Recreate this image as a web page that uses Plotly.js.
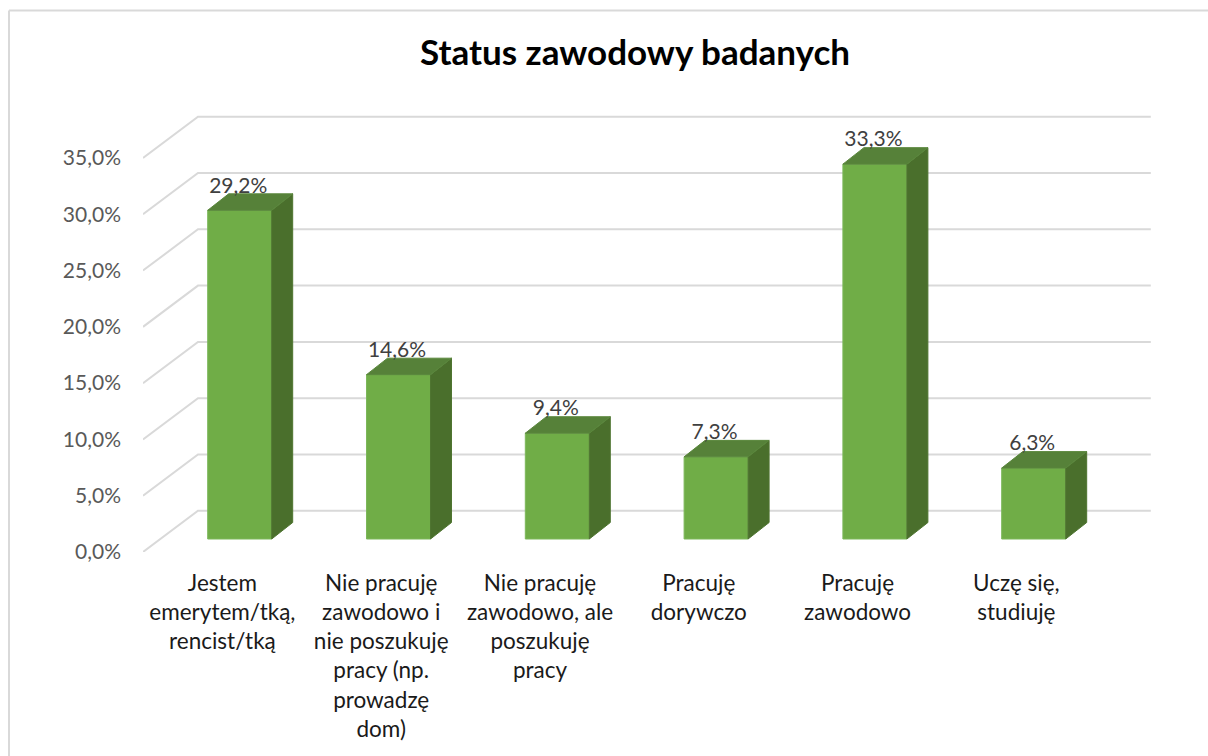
<!DOCTYPE html>
<html>
<head>
<meta charset="utf-8">
<script src="https://cdn.plot.ly/plotly-3.0.1.min.js"></script>
<style>html,body{margin:0;padding:0;background:#fff}#chart{width:1208px;height:756px}</style>
</head>
<body>
<div id="chart"></div>
<script>
const categories = [
  "Jestem<br>emerytem/tką,<br>rencist/tką",
  "Nie pracuję<br>zawodowo i<br>nie poszukuję<br>pracy (np.<br>prowadzę<br>dom)",
  "Nie pracuję<br>zawodowo, ale<br>poszukuję<br>pracy",
  "Pracuję<br>dorywczo",
  "Pracuję<br>zawodowo",
  "Uczę się,<br>studiuję"
];
const values = [29.2, 14.6, 9.4, 7.3, 33.3, 6.3];
const axisTicks = [0, 5, 10, 15, 20, 25, 30, 35];

const W = 1208, H = 756;
const plotL = 143, plotR = 1151, plotT = 110, plotB = 552.5;
const pxX = 158.8, pxY = 11.27;
const ux = p => p / pxX, uy = p => p / pxY;

const fmt = v => v.toFixed(1).replace('.', ',') + '%';
const idx = categories.map((_, i) => i);
const wallDx = ux(55), wallDy = uy(41.3);
const barShift = ux(17.3), barBase = uy(13);
const barW = ux(64), depthX = ux(21), depthY = uy(16.5);
const xRange = [-0.5, -0.5 + (plotR - plotL) / pxX];
const yRange = [0, (plotB - plotT) / pxY];

const gridShapes = axisTicks.map(v => ({
  type: 'path', layer: 'below', xref: 'x', yref: 'y',
  path: `M ${-0.5} ${v} L ${-0.5 + wallDx} ${v + wallDy} L ${5.5 + wallDx} ${v + wallDy}`,
  line: {color: '#d9d9d9', width: 2}, fillcolor: 'rgba(0,0,0,0)'
}));
const px = x => (x - plotL) / (plotR - plotL), py = y => (plotB - y) / (plotB - plotT);
const frameShapes = [
  {type:'line', xref:'paper', yref:'paper', x0:px(9), x1:px(9), y0:py(10.5), y1:py(757), line:{color:'#d9d9d9', width:2}},
  {type:'line', xref:'paper', yref:'paper', x0:px(9), x1:px(1209), y0:py(10.5), y1:py(10.5), line:{color:'#d9d9d9', width:2}}
];

const cx = i => i + barShift;
const sideX = [], sideY = [], topX = [], topY = [];
values.forEach((v, i) => {
  const l = cx(i) - barW / 2, r = cx(i) + barW / 2, t = barBase + v;
  sideX.push(r, r + depthX, r + depthX, r, r, null);
  sideY.push(barBase, barBase + depthY, t + depthY, t, barBase, null);
  topX.push(l, l + depthX, r + depthX, r, l, null);
  topY.push(t, t + depthY, t + depthY, t, t, null);
});

const traces = [
  {type:'bar', x: idx.map(cx), y: values, base: idx.map(() => barBase), width: barW,
   marker:{color:'#70ad47', line:{color:'#7cb75a', width:1}}, showlegend:false, hoverinfo:'skip'},
  {type:'scatter', mode:'lines', x: sideX, y: sideY, fill:'toself', fillcolor:'#4a6f2c',
   line:{color:'#4f7531', width:1}, showlegend:false, hoverinfo:'skip'},
  {type:'scatter', mode:'lines', x: topX, y: topY, fill:'toself', fillcolor:'#568139',
   line:{color:'#5a873c', width:1}, showlegend:false, hoverinfo:'skip'},
  {type:'scatter', mode:'text', x: idx.map(i => cx(i) - ux(1.5)), y: values.map(v => barBase + v + uy(23)),
   text: values.map(fmt), textposition:'middle center', cliponaxis:false,
   textfont:{family:'Lato', size:21, color:'#404040'}, showlegend:false, hoverinfo:'skip'}
];

const layout = {
  width: W, height: H, showlegend:false, hovermode:false,
  paper_bgcolor:'#ffffff', plot_bgcolor:'rgba(0,0,0,0)',
  margin:{l:plotL, r:W - plotR, t:plotT, b:H - plotB, pad:0},
  font:{family:'Lato'},
  title:{text:'<b>Status zawodowy badanych</b>', x:635/W, xref:'container', xanchor:'center', y:1-53/H, yref:'container', yanchor:'middle',
         font:{family:'Lato', size:35, color:'#000000'}},
  xaxis:{range:xRange, tickmode:'array', tickvals:idx, ticktext:categories, ticks:'', showline:false, showgrid:false, zeroline:false,
         ticklabelstandoff:15, tickangle:0, tickfont:{family:'Lato', size:22.5, color:'#1a1a1a'}, automargin:false},
  yaxis:{range:yRange, tickmode:'array', tickvals:axisTicks, ticktext:axisTicks.map(fmt), ticks:'', showline:false, showgrid:false, zeroline:false,
         ticklabelstandoff:21, tickfont:{family:'Lato', size:21, color:'#595959'}, automargin:false},
  shapes: gridShapes.concat(frameShapes),
  barmode:'overlay'
};
Plotly.newPlot('chart', traces, layout, {displayModeBar:false, staticPlot:true});
</script>
</body>
</html>
